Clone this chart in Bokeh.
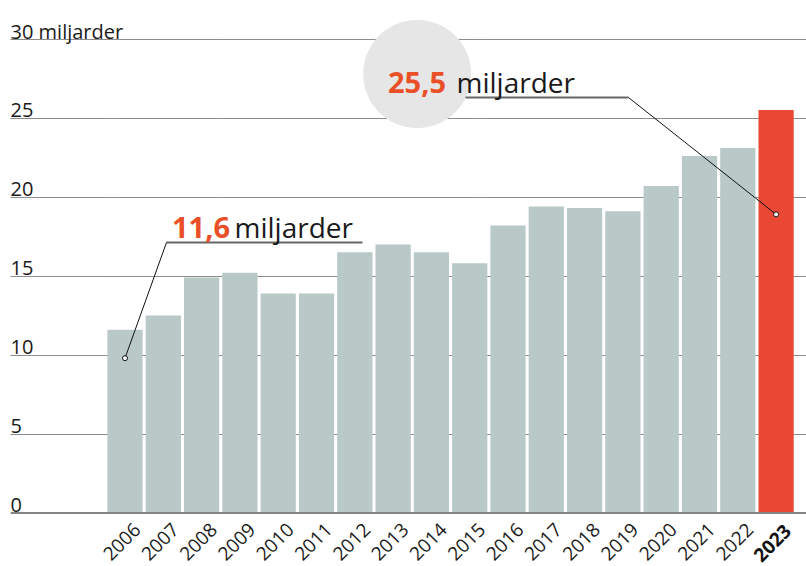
import math
from bokeh.plotting import figure
from bokeh.models import Range1d, Grid, FixedTicker, Span
from bokeh.core.properties import value
from bokeh.embed import file_html
from bokeh.resources import INLINE

years = ["2006", "2007", "2008", "2009", "2010", "2011", "2012", "2013", "2014",
         "2015", "2016", "2017", "2018", "2019", "2020", "2021", "2022", "2023"]
values = [11.6, 12.5, 14.9, 15.2, 13.9, 13.9, 16.5, 17.0, 16.5,
          15.8, 18.2, 19.4, 19.3, 19.1, 20.7, 22.6, 23.1, 25.5]
tick_values = [0, 5, 10, 15, 20, 25, 30]
tick_labels = ["0", "5", "10", "15", "20", "25", "30 miljarder"]
grid_ticks = [5, 10, 15, 20, 25, 30]

GREY = "#b8c9c8"
RED = "#e94834"
ORANGE = "#ea5028"
FONT = value("Open Sans")

n = len(years)
idx = list(range(n))
colors = [GREY] * (n - 1) + [RED]

# pixel helpers for annotation layout
STEP = 38.3
X0 = 124.5
UNIT = 15.8
BASE = 512.5
fx = lambda px: (px - X0) / STEP
fy = lambda py: (BASE - py) / UNIT

p = figure(width=806, height=566, output_backend="svg", toolbar_location=None,
           x_range=Range1d(fx(10), fx(806)), y_range=Range1d(fy(566), fy(0)),
           min_border_left=10, min_border_right=0, min_border_top=0, min_border_bottom=0)
p.axis.visible = False
p.grid.visible = False
p.outline_line_color = None
p.background_fill_color = "white"
p.border_fill_color = "white"

p.add_layout(Grid(dimension=1, ticker=FixedTicker(ticks=grid_ticks),
                  grid_line_color="#1a1a1a", grid_line_dash="1 1", grid_line_width=1))

p.vbar(x=idx, top=values, width=0.92, color=colors, line_color=None)

p.add_layout(Span(location=0, dimension="width", line_color="#858585", line_width=2))

# y tick labels
p.text(x=[fx(10)] * len(tick_values), y=tick_values, text=tick_labels,
       text_font=FONT, text_font_size="20px", text_color="#1a1a1a",
       text_align="left", text_baseline="alphabetic", y_offset=-8)

# x labels
p.text(x=[i + 0.32 for i in idx[:-1]], y=[fy(526)] * (n - 1), text=years[:-1],
       angle=math.pi / 4, text_font=FONT, text_font_size="19px", text_color="#1a1a1a",
       text_align="right", text_baseline="middle")
p.text(x=[idx[-1] + 0.3], y=[fy(527)], text=[years[-1]],
       angle=math.pi / 4, text_font=FONT, text_font_size="19px", text_color="#111111",
       text_font_style="bold", text_align="right", text_baseline="middle")

# annotation 2023
p.scatter(x=[fx(416.7)], y=[fy(73.5)], size=108, marker="circle",
          fill_color="#e6e6e6", line_color=None)
p.line(x=[fx(465), fx(628)], y=[fy(97), fy(97)], line_color="#666666", line_width=2)
p.line(x=[fx(628), idx[-1]], y=[fy(97), 18.9], line_color="#111111", line_width=1)
p.scatter(x=[idx[-1]], y=[18.9], size=5, marker="circle", fill_color="white",
          line_color="#111111", line_width=1)
p.text(x=[fx(387.5)], y=[fy(81.7)], text=["25,5"], text_font=FONT, text_font_size="29px",
       text_font_style="bold", text_color=ORANGE, text_align="left", text_baseline="alphabetic")
p.text(x=[fx(456)], y=[fy(81.7)], text=["miljarder"], text_font=FONT, text_font_size="28px",
       text_color="#1a1a1a", text_align="left", text_baseline="alphabetic")

# annotation 2006
p.line(x=[fx(166), fx(362)], y=[fy(242), fy(242)], line_color="#666666", line_width=2)
p.line(x=[fx(166), idx[0]], y=[fy(242), 9.8], line_color="#111111", line_width=1)
p.scatter(x=[idx[0]], y=[9.8], size=5, marker="circle", fill_color="white",
          line_color="#111111", line_width=1)
p.text(x=[fx(171.5)], y=[fy(226.7)], text=["11,6"], text_font=FONT, text_font_size="29px",
       text_font_style="bold", text_color=ORANGE, text_align="left", text_baseline="alphabetic")
p.text(x=[fx(234)], y=[fy(226.7)], text=["miljarder"], text_font=FONT, text_font_size="28px",
       text_color="#1a1a1a", text_align="left", text_baseline="alphabetic")

open("out.html", "w").write(file_html(p, INLINE))
